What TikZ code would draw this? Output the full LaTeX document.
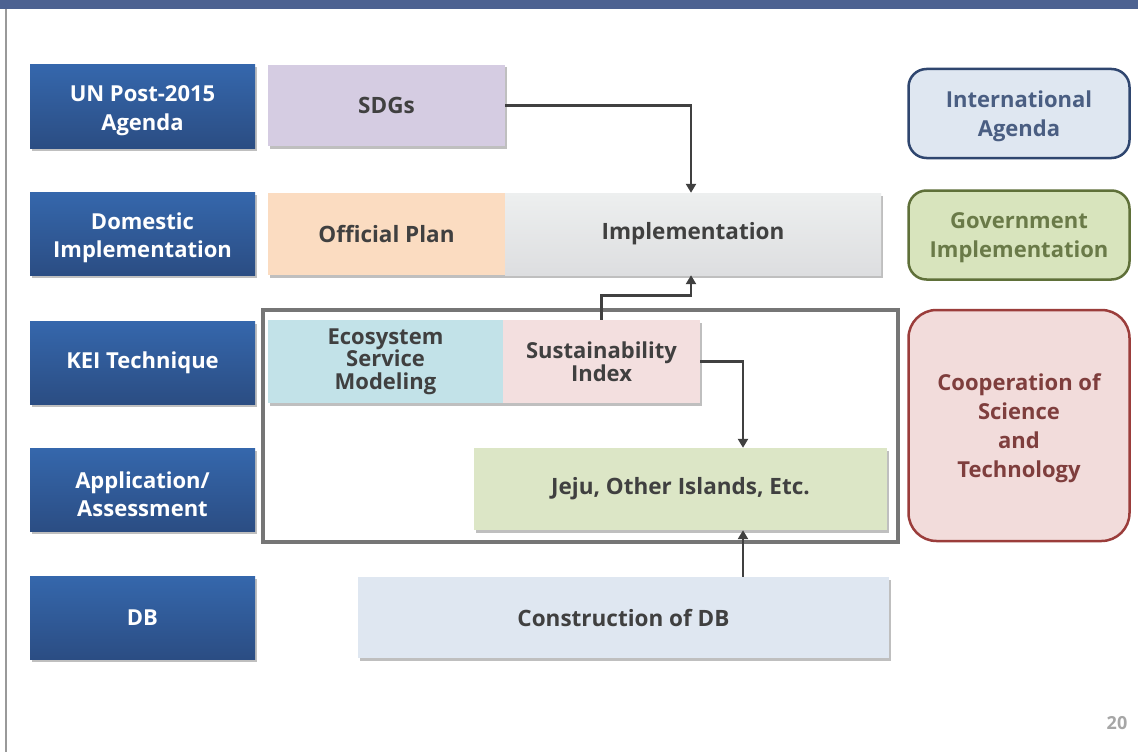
\documentclass[tikz,border=0pt]{standalone}
\usepackage{fontspec}
\setmainfont{Open Sans}
\usetikzlibrary{shadows,arrows.meta,calc}
\definecolor{barblue}{HTML}{4D6291}
\definecolor{bluetop}{HTML}{3567AC}
\definecolor{bluebot}{HTML}{2B4D83}
\definecolor{txt}{HTML}{404040}
\definecolor{sdgc}{HTML}{D5CCE2}
\definecolor{offc}{HTML}{FBDCC1}
\definecolor{impltop}{HTML}{EDEFEF}
\definecolor{implbot}{HTML}{DDDEE0}
\definecolor{ecoc}{HTML}{C2E2E8}
\definecolor{sustc}{HTML}{F3DFDF}
\definecolor{jejuc}{HTML}{DCE6C6}
\definecolor{dbc}{HTML}{DFE7F1}
\definecolor{intfill}{HTML}{DFE7F1}
\definecolor{intdraw}{HTML}{2F466F}
\definecolor{inttxt}{HTML}{4A5E82}
\definecolor{govfill}{HTML}{D8E4BD}
\definecolor{govdraw}{HTML}{5F7039}
\definecolor{govtxt}{HTML}{6A7A48}
\definecolor{coopfill}{HTML}{F2DCDB}
\definecolor{coopdraw}{HTML}{9B3D3B}
\definecolor{cooptxt}{HTML}{7F3E3D}
\definecolor{framec}{HTML}{767676}
\newcommand{\lowtext}[2]{\raisebox{-#1}[\height][\depth]{\parbox{215pt}{\centering #2}}}
\begin{document}
\begin{tikzpicture}[x=1pt,y=-1pt,
  shad/.style={drop shadow={shadow xshift=1.5pt,shadow yshift=-2.5pt,opacity=0.25,fill=black}},
  labbox/.style={rectangle, inner sep=0pt, minimum width=225pt, minimum height=83pt,
    top color=bluetop, bottom color=bluebot, text=white, align=center,
    font=\bfseries\fontsize{22}{28.5}\selectfont, shad},
  cbox/.style={rectangle, inner sep=0pt, text=txt, align=center,
    font=\bfseries\fontsize{22.5}{28}\selectfont, shad},
  rbox/.style={rectangle, rounded corners=18pt, line width=2.5pt, inner sep=0pt,
    minimum width=221pt, align=center, font=\bfseries\fontsize{22}{29}\selectfont},
  conn/.style={draw=txt, line width=2.8pt, -{Triangle[length=9pt,width=10pt]}}
]
\useasboundingbox (0,0) rectangle (1138,752);
\fill[white] (0,0) rectangle (1138,752);
\fill[barblue] (0,0) rectangle (1138,9);
\draw[gray!80, line width=1.5pt] (6,9) -- (6,752);

% left labels
\node[labbox] (un)  at (142.5,106.5) {\lowtext{4pt}{UN Post-2015\\Agenda}};
\node[labbox] (dom) at (142.5,234) {\lowtext{4pt}{Domestic\\Implementation}};
\node[labbox] (kei) at (142.5,362.5) {KEI Technique};
\node[labbox] (app) at (142.5,490) {\lowtext{4pt}{Application/\\Assessment}};
\node[labbox] (dbl) at (142.5,618) {DB};

% frame
\node[draw=framec, line width=3.5pt, rectangle, minimum width=635pt, minimum height=232pt, inner sep=0pt] (frame) at (580.5,426) {};

% content boxes
\node[cbox, fill=sdgc, minimum width=237pt, minimum height=81pt] (sdgs) at (386.5,105.5) {SDGs};
\node[cbox, fill=offc, minimum width=237pt, minimum height=82pt] (off) at (386.5,234) {Official Plan};
\node[cbox, top color=impltop, bottom color=implbot, minimum width=376pt, minimum height=82pt] (impl) at (693,234) {Implementation};
\node[cbox, fill=ecoc, minimum width=235pt, minimum height=83pt, font=\bfseries\fontsize{22}{22.5}\selectfont] (eco) at (385.5,361.5) {Ecosystem\\Service\\Modeling};
\node[cbox, fill=sustc, minimum width=197pt, minimum height=83pt, font=\bfseries\fontsize{22}{23}\selectfont] (sust) at (601.5,361.5) {Sustainability\\Index};
\node[cbox, fill=jejuc, minimum width=413pt, minimum height=82pt] (jeju) at (680.5,489) {Jeju, Other Islands, Etc.};
\node[cbox, fill=dbc, minimum width=531pt, minimum height=81pt] (db) at (623.5,617.5) {Construction of DB};

% right boxes
\node[rbox, fill=intfill, draw=intdraw, text=inttxt, minimum height=89pt] (intl) at (1019,113.5) {\lowtext{3pt}{International\\Agenda}};
\node[rbox, fill=govfill, draw=govdraw, text=govtxt, minimum height=89pt] (gov) at (1019,235) {\lowtext{3pt}{Government\\Implementation}};
\node[rbox, fill=coopfill, draw=coopdraw, text=cooptxt, minimum height=231pt, rounded corners=28pt] (coop) at (1019,425.5) {\lowtext{3pt}{Cooperation of\\Science\\and\\Technology}};

% connectors
\coordinate (vx) at (743,0);
\coordinate (hx) at (691,0);
\draw[conn] (sdgs.east) -| (hx |- impl.north);
\draw[conn] (sust.north) -- ++(0,-24) -| (hx |- impl.south);
\draw[conn] (sust.east) -| (vx |- jeju.north);
\draw[conn] (vx |- db.north) -- (vx |- jeju.south);

\node[text=gray!70, font=\bfseries\fontsize{18}{20}\selectfont] (pg) at (1117,723) {20};
\end{tikzpicture}
\end{document}
